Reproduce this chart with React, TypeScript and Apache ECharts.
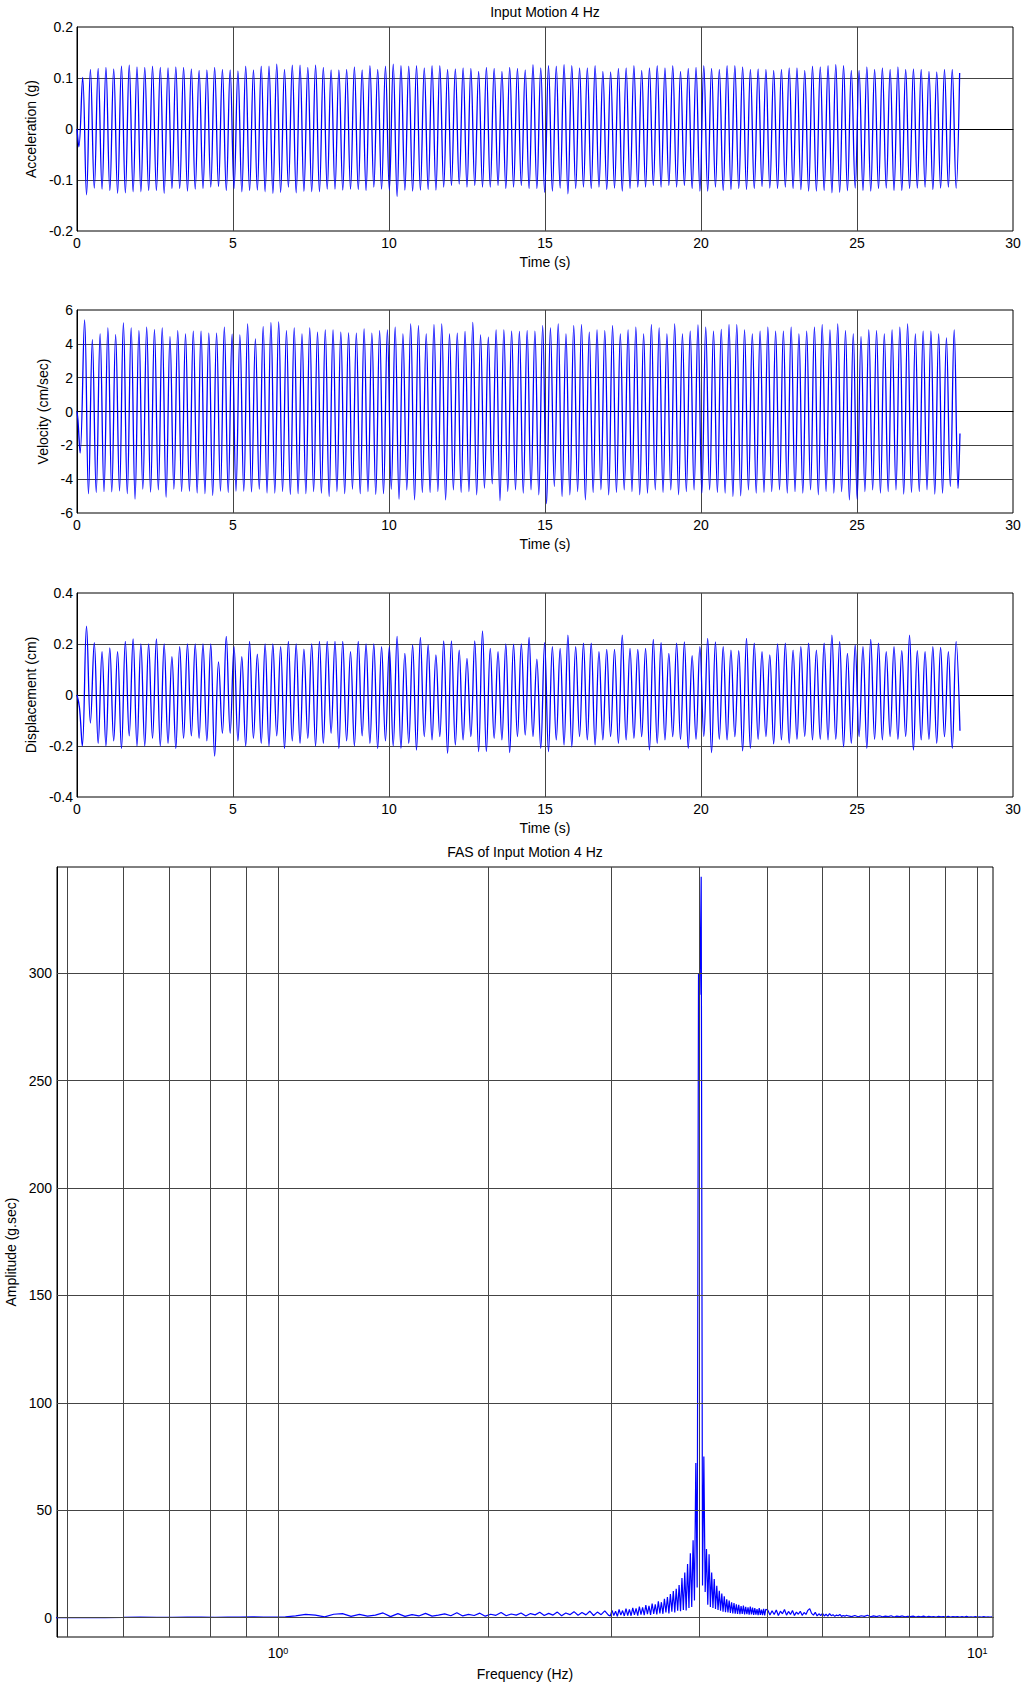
import React, { useEffect, useRef } from "react";
import * as echarts from "echarts";

const FONT = "'Liberation Sans', Arial, Helvetica, sans-serif";
const FS = 14;
const GRID_COLOR = "#444";
const LINE_BLUE = "#0000ff";

// ---------- time axis ----------
const TIME_MIN = 0;
const TIME_MAX = 30;
const TIME_STEP = 5;
const HALF_PERIOD = 0.12443; // spacing between successive extremes (s)

// ---------- acceleration (g) ----------
const ACC_Y = { min: -0.2, max: 0.2, step: 0.1 };
const ACC_START = [[0, 0], [0.06, -0.035]];
const ACC_T0 = 0.181;
const ACC_PEAKS = [
  0.101, 0.117, 0.119, 0.121, 0.118, 0.123, 0.125, 0.122, 0.121, 0.123, 0.121, 0.120, 0.122, 0.121, 0.118, 0.115, 0.116, 0.121, 0.117, 0.116,
  0.114, 0.123, 0.116, 0.123, 0.123, 0.127, 0.117, 0.125, 0.125, 0.121, 0.125, 0.121, 0.116, 0.116, 0.117, 0.122, 0.116, 0.124, 0.117, 0.123, 0.127,
  0.124, 0.123, 0.124, 0.120, 0.124, 0.124, 0.117, 0.118, 0.120, 0.119, 0.113, 0.121, 0.119, 0.113, 0.121, 0.119, 0.116, 0.126, 0.120, 0.124,
  0.123, 0.126, 0.124, 0.120, 0.120, 0.124, 0.113, 0.112, 0.119, 0.120, 0.124, 0.115, 0.120, 0.124, 0.120, 0.124, 0.113, 0.119, 0.121, 0.124,
  0.119, 0.117, 0.124, 0.124, 0.122, 0.117, 0.118, 0.117, 0.115, 0.117, 0.120, 0.120, 0.115, 0.123, 0.122, 0.124, 0.126, 0.124, 0.115, 0.115,
  0.122, 0.117, 0.120, 0.117, 0.122, 0.117, 0.118, 0.117, 0.113, 0.112, 0.117, 0.117,
];
const ACC_TROUGHS = [
  -0.129, -0.116, -0.118, -0.121, -0.126, -0.125, -0.123, -0.123, -0.121, -0.121, -0.126, -0.117, -0.117, -0.122, -0.118, -0.117, -0.114, -0.113, -0.121, -0.117,
  -0.123, -0.121, -0.120, -0.123, -0.126, -0.124, -0.114, -0.125, -0.122, -0.123, -0.123, -0.118, -0.118, -0.120, -0.118, -0.119, -0.121, -0.114, -0.118, -0.120, -0.132,
  -0.120, -0.122, -0.120, -0.119, -0.120, -0.114, -0.111, -0.108, -0.114, -0.111, -0.114, -0.114, -0.111, -0.117, -0.114, -0.111, -0.117, -0.117, -0.124, -0.122,
  -0.116, -0.127, -0.117, -0.114, -0.117, -0.114, -0.119, -0.116, -0.122, -0.117, -0.114, -0.114, -0.111, -0.114, -0.111, -0.114, -0.111, -0.117, -0.122,
  -0.122, -0.114, -0.121, -0.119, -0.117, -0.119, -0.117, -0.113, -0.116, -0.117, -0.114, -0.117, -0.119, -0.122, -0.122, -0.121, -0.125, -0.124, -0.121, -0.116,
  -0.121, -0.122, -0.117, -0.116, -0.121, -0.121, -0.117, -0.116, -0.114, -0.119, -0.116, -0.114, -0.116,
];
const ACC_END = [[28.29, 0.11]];

// ---------- velocity (cm/sec) ----------
const VEL_Y = { min: -6, max: 6, step: 2 };
const VEL_START = [[0, 0], [0.03, -0.5], [0.1, -2.45]];
const VEL_T0 = 0.243;
const VEL_PEAKS = [
  5.41, 4.24, 4.59, 4.94, 4.55, 5.24, 4.94, 4.78, 4.98, 4.84, 4.94, 4.43, 4.78, 4.59, 4.75, 4.75, 4.63, 4.63, 4.98, 4.57,
  4.53, 5.18, 4.29, 5.02, 5.25, 5.29, 4.78, 4.94, 4.59, 4.94, 4.69, 4.82, 4.82, 4.69, 4.65, 4.63, 4.88, 4.63, 4.78, 4.82, 4.98,
  4.59, 5.18, 5.08, 4.59, 5.14, 5.18, 4.59, 4.63, 4.73, 5.27, 4.53, 4.39, 4.82, 4.82, 4.75, 4.73, 4.78, 4.75, 5.08,
  4.94, 5.18, 4.59, 5.08, 5.14, 4.69, 4.82, 4.78, 5.08, 4.59, 4.82, 4.98, 4.59, 5.14, 4.94, 4.59, 5.18, 4.59, 4.75, 5.12,
  4.98, 4.75, 4.86, 5.14, 5.14, 4.82, 4.59, 4.75, 4.98, 4.75, 4.75, 4.98, 4.59, 4.75, 4.98, 5.14, 4.82, 5.18, 4.78, 4.59,
  4.43, 4.82, 4.78, 4.59, 4.82, 4.98, 5.18, 4.59, 4.75, 4.75, 4.59, 4.35, 4.82,
];
const VEL_TROUGHS = [
  -4.86, -4.78, -4.73, -4.75, -4.69, -4.86, -5.18, -4.59, -4.76, -4.63, -5.06, -4.59, -4.73, -4.71, -4.82, -4.86, -4.96, -4.71, -4.78, -4.71,
  -4.71, -4.75, -4.59, -4.82, -4.82, -4.73, -4.90, -4.86, -4.86, -4.73, -4.82, -5.02, -4.73, -4.86, -4.59, -4.86, -4.73, -4.90, -4.86, -4.59, -5.18,
  -4.63, -5.22, -4.78, -4.78, -4.73, -5.22, -4.63, -4.78, -4.73, -4.92, -4.53, -4.27, -5.27, -4.73, -4.63, -4.82, -4.63, -4.92, -5.45, -4.43,
  -5.02, -4.92, -4.73, -5.22, -4.78, -4.63, -4.92, -4.78, -4.63, -4.73, -4.92, -4.82, -4.63, -4.78, -4.63, -4.92, -4.73, -4.63, -4.82, -4.63,
  -4.78, -4.82, -5.02, -4.98, -4.63, -4.82, -4.78, -4.73, -4.63, -4.82, -4.73, -4.82, -4.63, -4.92, -4.73, -4.82, -4.73, -5.22, -5.18, -4.73,
  -4.63, -4.82, -4.73, -4.63, -4.88, -4.78, -4.73, -4.63, -4.88, -4.82, -4.43, -4.55,
];
const VEL_END = [[28.3, -1.3]];

// ---------- displacement (cm) ----------
const DISP_Y = { min: -0.4, max: 0.4, step: 0.2 };
const DISP_START = [[0, 0], [0.08, -0.05], [0.17, -0.2]];
const DISP_T0 = 0.305;
const DISP_PEAKS = [
  0.27, 0.205, 0.17, 0.185, 0.17, 0.21, 0.22, 0.20, 0.20, 0.22, 0.20, 0.15, 0.19, 0.20, 0.20, 0.20, 0.20, 0.13, 0.23, 0.19, 0.15,
  0.21, 0.16, 0.20, 0.20, 0.19, 0.21, 0.20, 0.18, 0.20, 0.21, 0.21, 0.21, 0.21, 0.17, 0.21, 0.20, 0.20, 0.19, 0.19, 0.23,
  0.163, 0.196, 0.226, 0.196, 0.157, 0.212, 0.212, 0.176, 0.144, 0.212, 0.251, 0.183, 0.17, 0.2, 0.199, 0.2, 0.226, 0.141, 0.205, 0.19,
  0.183, 0.235, 0.19, 0.203, 0.203, 0.17, 0.179, 0.179, 0.235, 0.183, 0.179, 0.183, 0.218, 0.205, 0.163, 0.203, 0.208, 0.154, 0.19, 0.222,
  0.208, 0.19, 0.176, 0.174, 0.222, 0.203, 0.17, 0.157, 0.2, 0.203, 0.176, 0.19, 0.203, 0.176, 0.203, 0.235, 0.209, 0.163, 0.196, 0.19,
  0.218, 0.203, 0.17, 0.19, 0.174, 0.235, 0.174, 0.17, 0.19, 0.187, 0.17, 0.209,
];
const DISP_TROUGHS = [
  -0.11, -0.19, -0.20, -0.18, -0.21, -0.16, -0.20, -0.20, -0.17, -0.20, -0.19, -0.21, -0.17, -0.16, -0.17, -0.18, -0.24, -0.15, -0.15, -0.18, -0.20,
  -0.17, -0.19, -0.20, -0.16, -0.21, -0.18, -0.19, -0.17, -0.20, -0.19, -0.15, -0.21, -0.18, -0.20, -0.16, -0.19, -0.21, -0.18, -0.20,
  -0.209, -0.190, -0.216, -0.163, -0.176, -0.163, -0.229, -0.196, -0.176, -0.163, -0.222, -0.222, -0.170, -0.176, -0.226, -0.163, -0.157, -0.163, -0.209, -0.222,
  -0.176, -0.196, -0.203, -0.163, -0.176, -0.196, -0.176, -0.163, -0.190, -0.176, -0.170, -0.163, -0.216, -0.190, -0.176, -0.163, -0.174, -0.209, -0.174, -0.163,
  -0.226, -0.174, -0.176, -0.163, -0.219, -0.209, -0.174, -0.163, -0.192, -0.176, -0.190, -0.174, -0.163, -0.176, -0.174, -0.176, -0.174, -0.203, -0.190, -0.163,
  -0.209, -0.174, -0.176, -0.163, -0.174, -0.163, -0.216, -0.176, -0.174, -0.190, -0.163, -0.209,
];
const DISP_END = [[28.3, -0.14]];

// ---------- Fourier amplitude spectrum ----------
const FAS_X_MIN = 0.483;
const FAS_X_MAX = 10.53;
const FAS_Y_MIN = -9;
const FAS_Y_MAX = 349.5;
const FAS_Y_TICKS = [0, 50, 100, 150, 200, 250, 300];
const FAS_X_GRID = [0.5, 0.6, 0.7, 0.8, 0.9, 1, 2, 3, 4, 5, 6, 7, 8, 9, 10];

// segment A: 0.459 - 2.968 Hz
const FAS_A_F0 = 0.459;
const FAS_A_DF = 0.03534;
const FAS_A_AMP = [
  0.05, 0.05, 0.08, 0.06, 0.1, 0.3, 0.12, 0.1, 0.3, 0.3, 0.15, 0.3, 0.3, 0.35, 0.3, 0.3,
  0.4, 0.8, 1.5, 1.2, 0.4, 1.6, 1.9, 0.6, 1.5, 0.7, 1.2, 2.2, 0.5, 1.9,
  0.6, 1.4, 0.8, 2.0, 0.7, 1.2, 1.8, 0.9, 2.3, 0.8, 1.5, 1.0, 2.1, 0.7, 1.6, 1.1, 2.4, 0.9, 1.7, 1.2, 2.2,
  0.8, 1.9, 1.3, 2.5, 1.0, 2.0, 1.2, 2.6, 0.9, 2.2, 1.4, 2.8, 1.1, 2.4, 1.3, 3.0, 1.0, 2.6, 1.4, 3.2, 1.2,
];
// segment B: 2.986 - 4.982 Hz (around the 4 Hz peak)
const FAS_B_F0 = 2.986;
const FAS_B_DF = 0.01767;
const FAS_B_AMP = [
  0.8, 3.4, 1.0, 3.0, 0.6, 3.8, 1.2, 3.3, 0.8, 4.2, 1.0, 3.9, 0.9, 4.6, 1.3, 4.3, 1.0, 5.2, 1.4, 4.8,
  1.2, 5.8, 1.6, 5.5, 1.3, 6.6, 1.8, 6.2, 1.5, 7.6, 2.0, 7.2, 1.8, 8.8, 2.4, 9.6, 2.0, 11.0, 2.8, 12.4,
  2.4, 13.5, 3.2, 15.2, 3.0, 18.5, 3.6, 21.0, 3.4, 25.0, 4.5, 30.0, 5.0, 36.0, 8.0, 72.0, 14, 300, 290, 345,
  15, 75, 12, 32, 6, 29.5, 5, 21, 4.5, 18, 4.0, 14.8, 3.6, 12.5, 3.2, 11.2, 2.8, 10.0, 2.6, 8.5,
  2.4, 8.0, 2.2, 7.2, 2.0, 6.8, 1.9, 6.2, 1.8, 6.0, 1.6, 5.4, 1.7, 5.6, 1.5, 5.0, 1.6, 4.8, 1.4, 5.2,
  1.5, 4.7, 1.3, 4.4, 1.4, 4.0, 1.2, 4.5, 1.3, 3.8, 1.2, 4.1, 1.1, 3.9,
];
// segment C: 5.017 - 6.501 Hz
const FAS_C_F0 = 5.017;
const FAS_C_DF = 0.03534;
const FAS_C_AMP = [
  3.5, 1.2, 3.2, 1.5, 3.6, 1.0, 3.0, 1.8, 3.8, 1.2, 2.9, 1.5, 3.3, 1.0, 2.6, 1.6, 3.0, 1.1, 2.4, 1.5,
  3.4, 4.2, 2.0, 1.2, 2.5, 0.8, 1.8, 1.0, 2.0, 0.8, 1.6, 0.7, 1.9, 0.9, 1.4, 0.6, 1.2, 0.9, 1.5, 0.6,
  1.0, 0.7, 1.1,
];
// segment D: 6.54 - 10.5 Hz
const FAS_D_F0 = 6.54;
const FAS_D_DF = 0.0707;
const FAS_D_AMP = [
  0.8, 0.5, 1.0, 0.4, 0.9, 0.6, 1.1, 0.4, 0.8, 0.5, 0.9, 0.4, 0.7, 0.5, 0.9, 0.3, 0.7, 0.5, 0.8, 0.4,
  0.6, 0.5, 0.7, 0.3, 0.6, 0.4, 0.7, 0.3, 0.6, 0.4, 0.5, 0.3, 0.6, 0.4, 0.5, 0.3, 0.6, 0.3, 0.5, 0.4,
  0.5, 0.3, 0.5, 0.3, 0.6, 0.3, 0.4, 0.3, 0.5, 0.3, 0.4, 0.3, 0.5, 0.3, 0.4, 0.3, 0.4,
];

// ---------- builders ----------
function buildWave(start: number[][], t0: number, peaks: number[], troughs: number[], end: number[][]) {
  const pts: number[][] = start.map((p) => [p[0], p[1]]);
  const n = peaks.length + troughs.length;
  for (let j = 0; j < n; j++) {
    const k = j >> 1;
    const v = j % 2 === 0 ? peaks[k] : troughs[k];
    pts.push([t0 + HALF_PERIOD * j, v]);
  }
  end.forEach((p) => pts.push([p[0], p[1]]));
  return pts;
}

function buildSegment(f0: number, df: number, amps: number[]) {
  return amps.map((a, i) => [f0 + df * i, a]);
}

const GRIDS = [
  { left: 77, top: 27, width: 936, height: 204 },
  { left: 77, top: 310, width: 936, height: 203 },
  { left: 77, top: 593, width: 936, height: 204 },
  { left: 57, top: 867, width: 936, height: 770 },
];

const textStyle = { fontFamily: FONT, fontSize: FS, color: "#000" };

function timeXAxis(gridIndex: number) {
  return {
    type: "value",
    gridIndex,
    min: TIME_MIN,
    max: TIME_MAX,
    interval: TIME_STEP,
    axisLine: { show: true, lineStyle: { color: "#000", width: 1 } },
    axisTick: { show: false },
    axisLabel: { ...textStyle, margin: 5 },
    splitLine: { show: true, showMinLine: false, showMaxLine: false, lineStyle: { color: GRID_COLOR, width: 1 } },
    name: "Time (s)",
    nameLocation: "middle",
    nameGap: 24,
    nameTextStyle: textStyle,
  };
}

function valueYAxis(gridIndex: number, cfg: { min: number; max: number; step: number }, name: string, gap: number) {
  return {
    type: "value",
    gridIndex,
    min: cfg.min,
    max: cfg.max,
    interval: cfg.step,
    axisLine: { show: true, lineStyle: { color: "#000", width: 1 } },
    axisTick: { show: false },
    axisLabel: { ...textStyle, margin: 4 },
    splitLine: { show: true, showMinLine: false, showMaxLine: false, lineStyle: { color: GRID_COLOR, width: 1 } },
    name,
    nameLocation: "middle",
    nameRotate: 90,
    nameGap: gap,
    nameTextStyle: textStyle,
  };
}

function waveSeries(idx: number, data: number[][]) {
  return {
    type: "line",
    xAxisIndex: idx,
    yAxisIndex: idx,
    data,
    showSymbol: false,
    symbol: "none",
    smooth: 0.4,
    lineStyle: { color: LINE_BLUE, width: 1.3 },
    z: 3,
    silent: true,
  };
}

export default function App() {
  const ref = useRef<HTMLDivElement>(null);

  useEffect(() => {
    document.body.style.margin = "0";
    const el = ref.current;
    if (!el) return;
    const chart = echarts.init(el, null, { renderer: "svg" });

    const acc = buildWave(ACC_START, ACC_T0, ACC_PEAKS, ACC_TROUGHS, ACC_END);
    const vel = buildWave(VEL_START, VEL_T0, VEL_PEAKS, VEL_TROUGHS, VEL_END);
    const disp = buildWave(DISP_START, DISP_T0, DISP_PEAKS, DISP_TROUGHS, DISP_END);
    const fas = [
      ...buildSegment(FAS_A_F0, FAS_A_DF, FAS_A_AMP),
      ...buildSegment(FAS_B_F0, FAS_B_DF, FAS_B_AMP),
      ...buildSegment(FAS_C_F0, FAS_C_DF, FAS_C_AMP),
      ...buildSegment(FAS_D_F0, FAS_D_DF, FAS_D_AMP),
    ];

    const option: any = {
      animation: false,
      backgroundColor: "#fff",
      textStyle: { fontFamily: FONT },
      grid: GRIDS.map((g) => ({
        ...g,
        containLabel: false,
        outerBoundsMode: "none",
        show: true,
        borderColor: "#000",
        borderWidth: 1,
        backgroundColor: "transparent",
      })),
      graphic: [
        {
          type: "text",
          x: 545,
          y: 12,
          style: { text: "Input Motion 4 Hz", align: "center", verticalAlign: "middle", fontFamily: FONT, fontSize: FS, fill: "#000" },
        },
        {
          type: "text",
          x: 525,
          y: 852,
          style: { text: "FAS of Input Motion 4 Hz", align: "center", verticalAlign: "middle", fontFamily: FONT, fontSize: FS, fill: "#000" },
        },
      ],
      xAxis: [
        timeXAxis(0),
        timeXAxis(1),
        timeXAxis(2),
        {
          type: "log",
          logBase: 10,
          gridIndex: 3,
          min: FAS_X_MIN,
          max: FAS_X_MAX,
          axisLine: { show: true, lineStyle: { color: "#000", width: 1 } },
          axisTick: { show: false },
          splitLine: { show: false },
          minorSplitLine: { show: false },
          axisLabel: {
            margin: 9,
            color: "#000",
            formatter: (v: number) => {
              const e = Math.log10(v);
              const r = Math.round(e);
              return Math.abs(e - r) < 1e-6 ? `{b|10}{s|${r}}` : "";
            },
            rich: {
              b: { fontFamily: FONT, fontSize: FS, color: "#000", lineHeight: 14, verticalAlign: "bottom" },
              s: { fontFamily: FONT, fontSize: 9, color: "#000", lineHeight: 9, verticalAlign: "top", padding: [0, 0, 10, 0] },
            },
          },
          name: "Frequency (Hz)",
          nameLocation: "middle",
          nameGap: 30,
          nameTextStyle: textStyle,
        },
      ],
      yAxis: [
        valueYAxis(0, ACC_Y, "Acceleration (g)", 38),
        valueYAxis(1, VEL_Y, "Velocity (cm/sec)", 25),
        valueYAxis(2, DISP_Y, "Displacement (cm)", 38),
        {
          type: "value",
          gridIndex: 3,
          min: FAS_Y_MIN,
          max: FAS_Y_MAX,
          axisLine: { show: true, lineStyle: { color: "#000", width: 1 } },
          axisTick: { show: false },
          splitLine: { show: false },
          axisLabel: { ...textStyle, margin: 5, customValues: FAS_Y_TICKS },
          name: "Amplitude (g.sec)",
          nameLocation: "middle",
          nameRotate: 90,
          nameGap: 37,
          nameTextStyle: textStyle,
        },
      ],
      series: [
        waveSeries(0, acc),
        waveSeries(1, vel),
        waveSeries(2, disp),
        {
          type: "line",
          xAxisIndex: 3,
          yAxisIndex: 3,
          data: [],
          z: 1,
          silent: true,
          markLine: {
            silent: true,
            symbol: ["none", "none"],
            label: { show: false },
            emphasis: { disabled: true },
            lineStyle: { color: GRID_COLOR, width: 1, type: "solid" },
            data: [
              ...FAS_X_GRID.map((v) => ({ xAxis: v })),
              ...FAS_Y_TICKS.map((v) => ({ yAxis: v })),
            ],
          },
        },
        {
          type: "line",
          xAxisIndex: 3,
          yAxisIndex: 3,
          data: fas,
          showSymbol: false,
          symbol: "none",
          lineStyle: { color: LINE_BLUE, width: 1.2 },
          z: 3,
          silent: true,
        },
      ],
    };

    chart.setOption(option);
    return () => chart.dispose();
  }, []);

  return <div ref={ref} style={{ width: 1025, height: 1686 }} />;
}
